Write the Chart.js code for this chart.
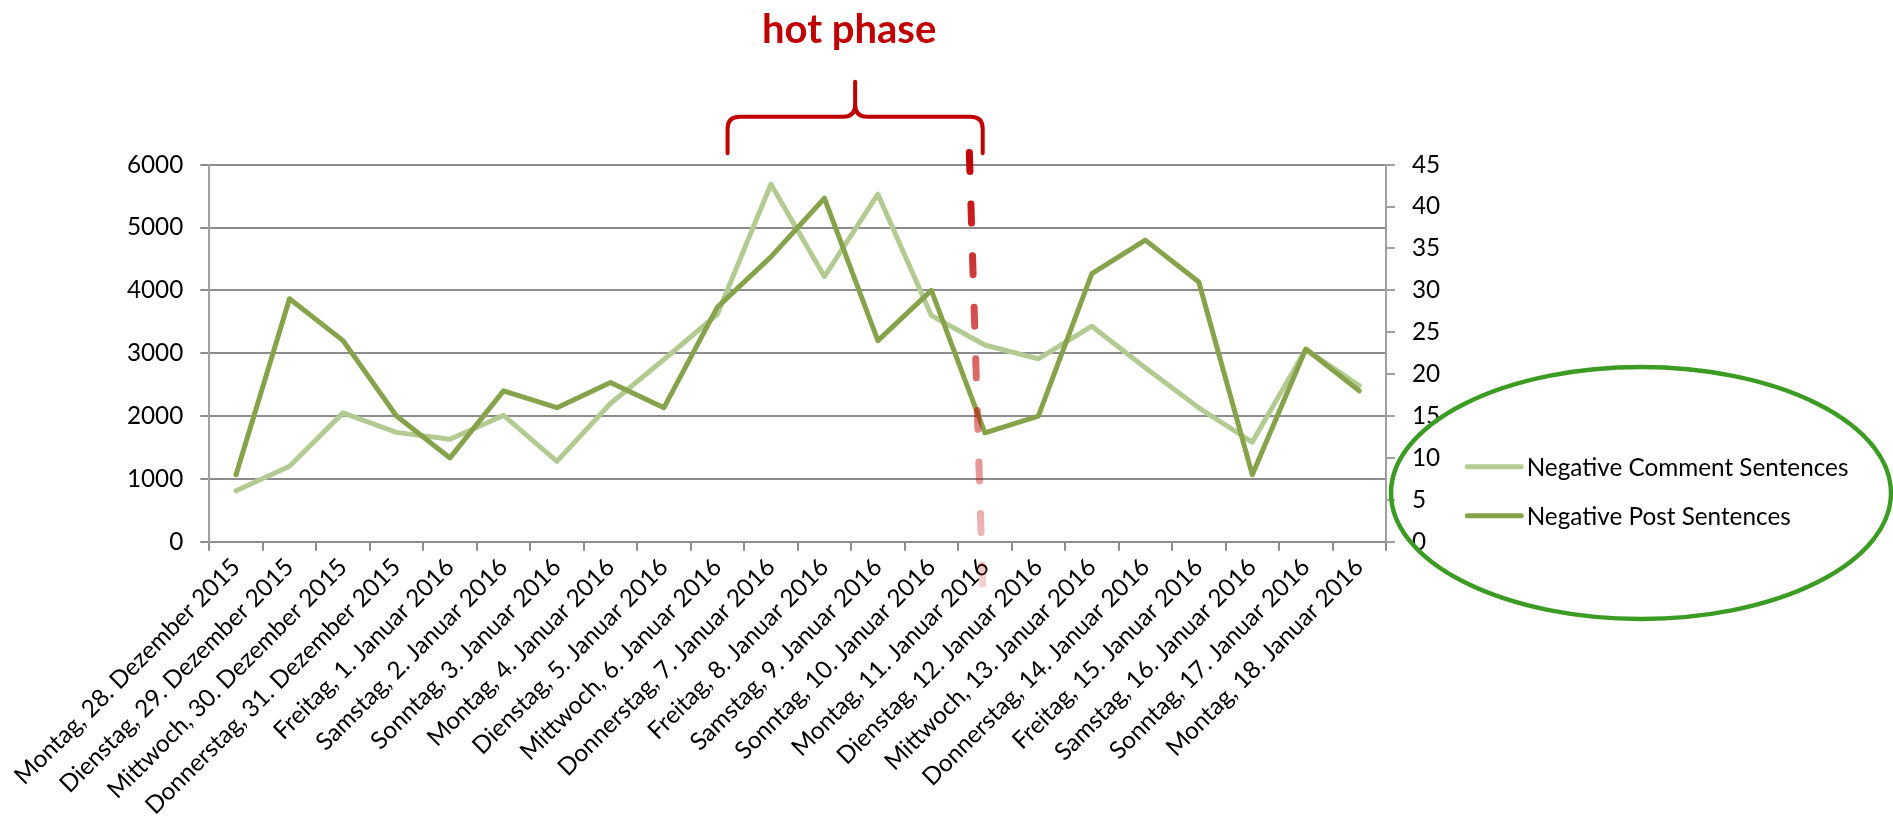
<!DOCTYPE html>
<html lang="de">
<head>
  <meta charset="UTF-8">
  <title>Negative Sätze – hot phase</title>
  <script src="https://cdn.jsdelivr.net/npm/chart.js"></script>
  <style>
    html, body { margin: 0; padding: 0; background: #fff; }
    #wrap { width: 1893px; height: 825px; }
  </style>
</head>
<body>
  <div id="wrap"><canvas id="grafico" width="1893" height="825"></canvas></div>

  <script>
    // Tage (Kategorien)
    const tage = [
      'Montag, 28. Dezember 2015', 'Dienstag, 29. Dezember 2015', 'Mittwoch, 30. Dezember 2015',
      'Donnerstag, 31. Dezember 2015', 'Freitag, 1. Januar 2016', 'Samstag, 2. Januar 2016',
      'Sonntag, 3. Januar 2016', 'Montag, 4. Januar 2016', 'Dienstag, 5. Januar 2016',
      'Mittwoch, 6. Januar 2016', 'Donnerstag, 7. Januar 2016', 'Freitag, 8. Januar 2016',
      'Samstag, 9. Januar 2016', 'Sonntag, 10. Januar 2016', 'Montag, 11. Januar 2016',
      'Dienstag, 12. Januar 2016', 'Mittwoch, 13. Januar 2016', 'Donnerstag, 14. Januar 2016',
      'Freitag, 15. Januar 2016', 'Samstag, 16. Januar 2016', 'Sonntag, 17. Januar 2016',
      'Montag, 18. Januar 2016'
    ];

    // Negative Sätze in Kommentaren (linke Achse)
    const kommentarSaetze = [810, 1200, 2050, 1740, 1630, 2010, 1280, 2200, 2900, 3620, 5690,
                             4220, 5530, 3600, 3130, 2910, 3430, 2770, 2130, 1585, 3060, 2485];
    // Negative Sätze in Posts (rechte Achse)
    const postSaetze = [8, 29, 24, 15, 10, 18, 16, 19, 16, 28, 34,
                        41, 24, 30, 13, 15, 32, 36, 31, 8, 23, 18];

    // Achsenbeschriftungen
    const ticksLinks = [0, 1000, 2000, 3000, 4000, 5000, 6000];
    const ticksRechts = [0, 5, 10, 15, 20, 25, 30, 35, 40, 45];

    // "hot phase": Klammer und Schnittlinie, in Kategorie-Einheiten
    const klammerVon = 9.19, klammerBis = 13.96;
    const schnittOben = 13.71, schnittUnten = 13.96;

    const grau = '#8c8c8c';
    const achsGrau = '#a0a0a0';
    const rot = '#c00000';
    const schrift = 'Lato, Carlito, Calibri, sans-serif';
    const schriftGroesse = 24.3;

    // Klammer, Titel, gestrichelte Linie, Legende und Ellipse
    const hotPhase = {
      id: 'hotPhase',
      afterDraw(chart) {
        const { ctx, chartArea: a, scales: { x } } = chart;
        const xl = x.getPixelForValue(klammerVon);
        const xr = x.getPixelForValue(klammerBis);
        const xm = (xl + xr) / 2;
        const yEnde = a.top - 11.4, yQuer = a.top - 48, ySpitze = a.top - 83, r = 12;

        ctx.save();
        ctx.strokeStyle = rot;
        ctx.lineWidth = 4;
        ctx.lineCap = 'round';
        ctx.lineJoin = 'round';
        ctx.beginPath();
        ctx.moveTo(xl, yEnde);
        ctx.lineTo(xl, yQuer + r);
        ctx.quadraticCurveTo(xl, yQuer, xl + r, yQuer);
        ctx.lineTo(xm - r, yQuer);
        ctx.quadraticCurveTo(xm, yQuer, xm, yQuer - r);
        ctx.lineTo(xm, ySpitze);
        ctx.moveTo(xm, yQuer - r);
        ctx.quadraticCurveTo(xm, yQuer, xm + r, yQuer);
        ctx.lineTo(xr - r, yQuer);
        ctx.quadraticCurveTo(xr, yQuer, xr, yQuer + r);
        ctx.lineTo(xr, yEnde);
        ctx.stroke();

        ctx.fillStyle = rot;
        ctx.font = 'bold 40px ' + schrift;
        ctx.textAlign = 'center';
        ctx.textBaseline = 'alphabetic';
        ctx.fillText('hot phase', xm - 6, a.top - 121.4);

        // gestrichelte Linie, nach unten blasser
        const y0 = a.top - 12.2, y1 = a.bottom + 44.8;
        const verlauf = ctx.createLinearGradient(0, y0, 0, y1);
        verlauf.addColorStop(0, 'rgba(192,0,0,1)');
        verlauf.addColorStop(1, 'rgba(192,0,0,0.18)');
        ctx.strokeStyle = verlauf;
        ctx.lineWidth = 7;
        ctx.setLineDash([19, 32.6]);
        ctx.beginPath();
        ctx.moveTo(x.getPixelForValue(schnittOben), y0);
        ctx.lineTo(x.getPixelForValue(schnittUnten), y1);
        ctx.stroke();
        ctx.setLineDash([]);

        // Legende
        const lx = a.right + 81.3;
        ctx.font = schriftGroesse + 'px ' + schrift;
        ctx.textAlign = 'left';
        ctx.textBaseline = 'middle';
        chart.data.datasets.forEach((ds, i) => {
          const ly = a.bottom - 75 + i * 49;
          ctx.strokeStyle = ds.borderColor;
          ctx.lineWidth = 5;
          ctx.beginPath();
          ctx.moveTo(lx, ly);
          ctx.lineTo(lx + 54, ly);
          ctx.stroke();
          ctx.fillStyle = '#000';
          ctx.fillText(ds.label, lx + 59.4, ly + 1);
        });

        // grüne Ellipse um die Legende
        ctx.strokeStyle = '#3c9b22';
        ctx.lineWidth = 4.5;
        ctx.beginPath();
        ctx.ellipse(a.right + 255, a.bottom - 48.7, 250, 126, 0, 0, Math.PI * 2);
        ctx.stroke();
        ctx.restore();
      }
    };

    const tickFont = { family: schrift, size: schriftGroesse };

    new Chart(document.getElementById('grafico'), {
      type: 'line',
      data: {
        labels: tage,
        datasets: [
          { label: 'Negative Comment Sentences', data: kommentarSaetze, yAxisID: 'y',
            borderColor: '#b3cb92', borderWidth: 5, order: 1 },
          { label: 'Negative Post Sentences', data: postSaetze, yAxisID: 'y1',
            borderColor: '#86a34b', borderWidth: 5, order: 0 }
        ]
      },
      options: {
        responsive: false,
        animation: false,
        layout: { padding: { left: 0, top: 164.7, right: 420, bottom: 0 } },
        elements: {
          point: { radius: 0, hoverRadius: 0 },
          line: { tension: 0, fill: false, borderCapStyle: 'round', borderJoinStyle: 'round' }
        },
        plugins: { legend: { display: false }, tooltip: { enabled: false } },
        scales: {
          x: {
            offset: true,
            grid: { offset: true, drawOnChartArea: false, tickLength: 9, color: grau, lineWidth: 2 },
            border: { color: grau, width: 2 },
            ticks: { autoSkip: false, maxRotation: 45, minRotation: 45, color: '#000', font: tickFont, padding: 2 },
            afterFit: s => { s.height = 283.3; }
          },
          y: {
            position: 'left',
            min: ticksLinks[0],
            max: ticksLinks[ticksLinks.length - 1],
            ticks: {
              stepSize: ticksLinks[1] - ticksLinks[0],
              format: { useGrouping: false },
              color: '#000', font: tickFont, padding: 17
            },
            grid: { color: grau, lineWidth: 2, tickLength: 9 },
            border: { color: achsGrau, width: 2 },
            afterFit: s => { s.width = 209.3; }
          },
          y1: {
            position: 'right',
            min: ticksRechts[0],
            max: ticksRechts[ticksRechts.length - 1],
            ticks: { stepSize: ticksRechts[1] - ticksRechts[0], color: '#000', font: tickFont, padding: 17 },
            grid: { drawOnChartArea: false, color: achsGrau, lineWidth: 2, tickLength: 9 },
            border: { color: achsGrau, width: 2 },
            afterFit: s => { s.width = 87; }
          }
        }
      },
      plugins: [hotPhase]
    });
  </script>
</body>
</html>
